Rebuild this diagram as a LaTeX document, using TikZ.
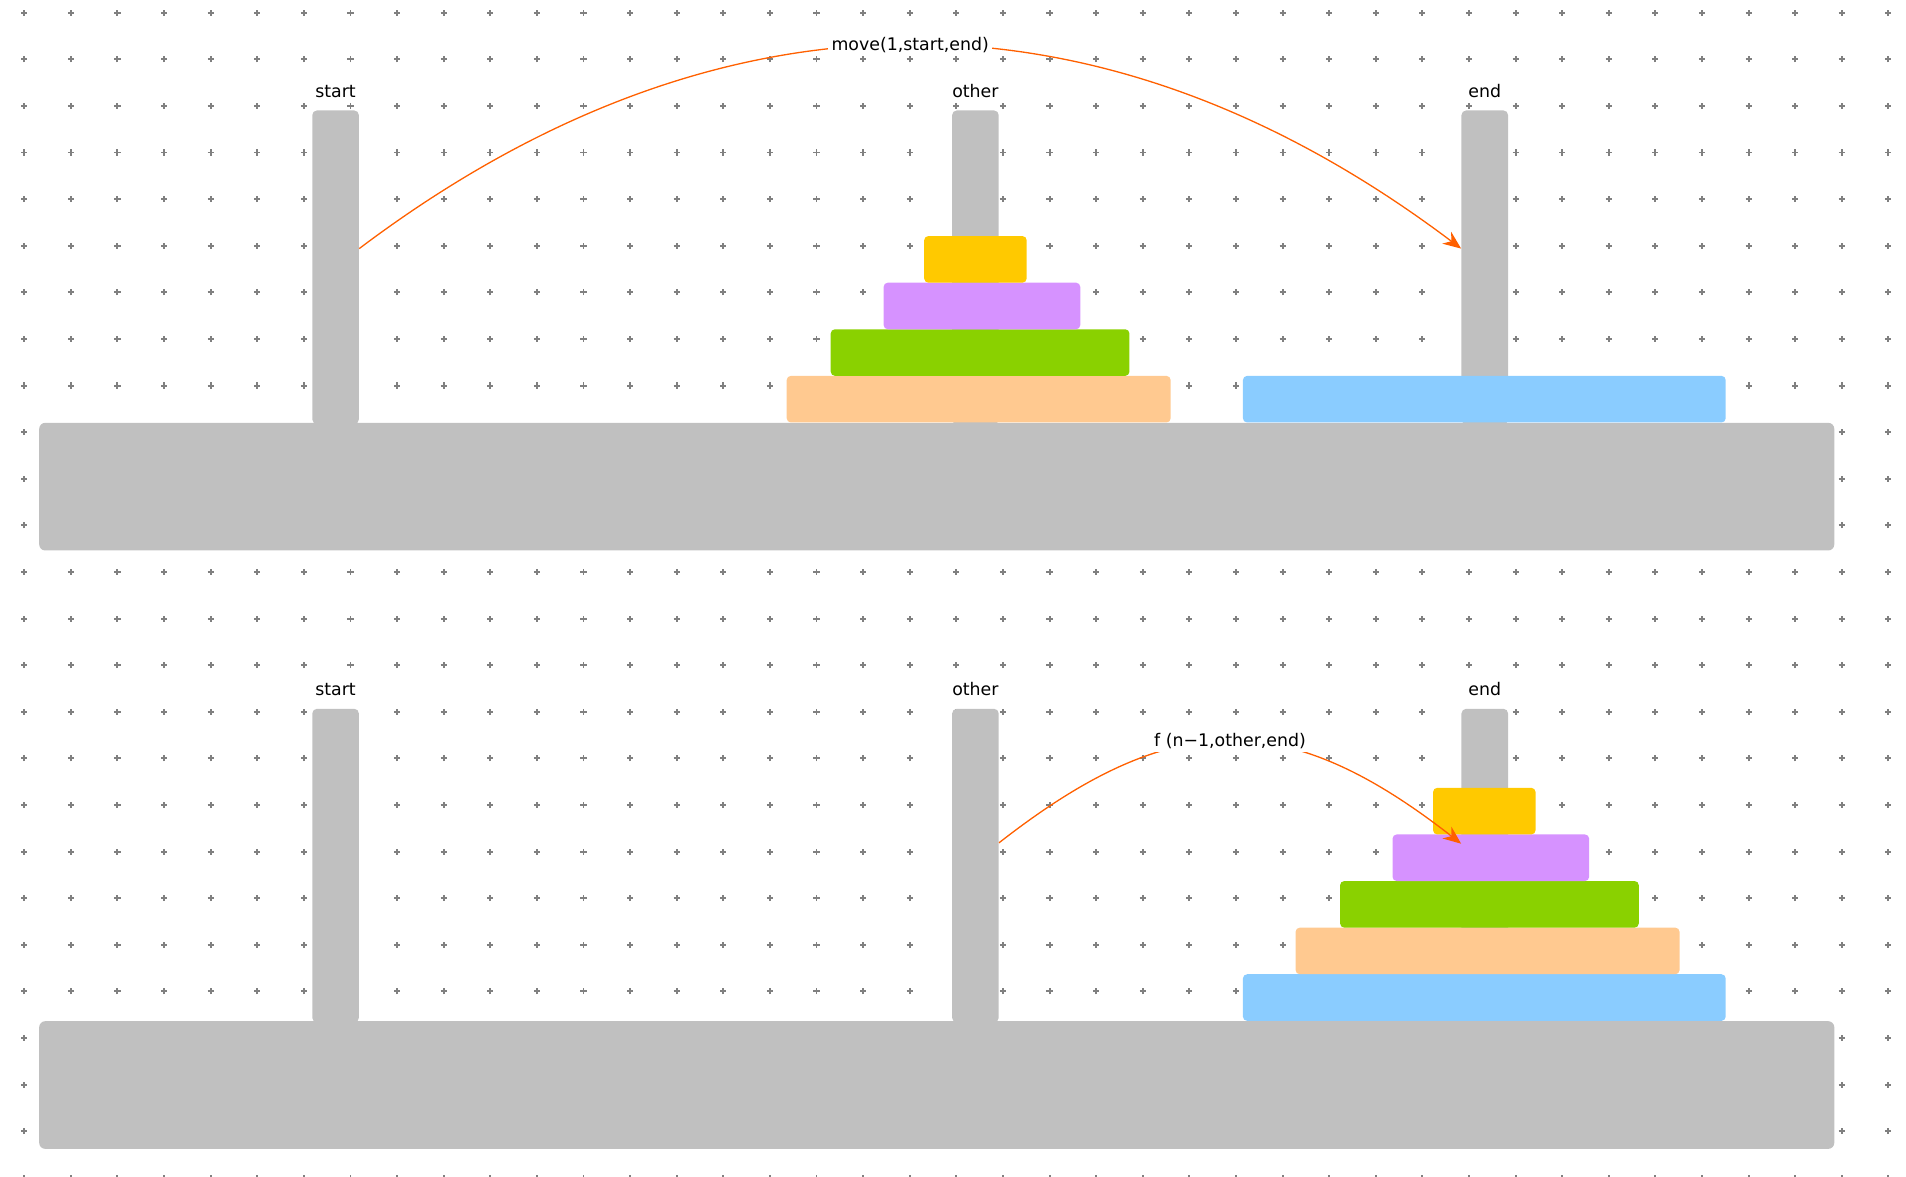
\documentclass[tikz,border=0pt]{standalone}
\usepackage{fontspec}
\setmainfont{DejaVu Sans}
\usetikzlibrary{positioning,arrows.meta}

\definecolor{peggray}{HTML}{C0C0C0}
\definecolor{dotgray}{HTML}{808080}
\definecolor{discyellow}{HTML}{FFC900}
\definecolor{discpurple}{HTML}{D692FF}
\definecolor{discgreen}{HTML}{8AD100}
\definecolor{discpeach}{HTML}{FFC990}
\definecolor{discblue}{HTML}{8ACCFF}
\definecolor{movecolor}{HTML}{FF6000}

\begin{document}
\begin{tikzpicture}[
    peg/.style={rectangle, rounded corners=0.1cm, fill=peggray, minimum width=1cm, minimum height=6.73cm, inner sep=0pt, anchor=north},
    board/.style={rectangle, rounded corners=0.13cm, fill=peggray, minimum width=38.52cm, minimum height=2.74cm, inner sep=0pt},
    disc/.style={rectangle, rounded corners=0.09cm, minimum height=1cm, inner sep=0pt, anchor=south},
    peglabel/.style={font=\fontsize{10.6}{12}\selectfont, anchor=base, inner sep=0pt},
    movelabel/.style={font=\fontsize{10.6}{12}\selectfont, fill=white, inner sep=2pt},
    move/.style={draw=movecolor, line width=0.8pt, -{Stealth[length=11pt,width=9pt,inset=3.5pt]}}
]
\useasboundingbox (-0.521,0.2725) rectangle (40.379,-24.964);

% Dot grid
\foreach \i in {0,...,40}
  \foreach \j in {0,...,25}
    \draw[dotgray, line width=1.2pt] (\i-0.065,-\j) -- (\i+0.065,-\j) (\i,-\j-0.065) -- (\i,-\j+0.065);

% Top: pegs and board
\node[peg] (startA) at (6.68,-2.09) {};
\node[peg] (otherA) at (20.41,-2.09) {};
\node[peg] (endA) at (31.34,-2.09) {};
\node[board] (boardA) at (19.58,-10.17) {};

\node[peglabel] at ([yshift=2.7mm]startA.north) {start};
\node[peglabel] at ([yshift=2.7mm]otherA.north) {other};
\node[peglabel] at ([yshift=2.7mm]endA.north) {end};

% Top: discs
\node[disc, fill=discpeach, minimum width=8.24cm] (peachA) at (20.48,-8.80) {};
\node[disc, fill=discgreen, minimum width=6.41cm] (greenA) at (20.51,-7.80) {};
\node[disc, fill=discpurple, minimum width=4.22cm] (purpleA) at (20.55,-6.80) {};
\node[disc, fill=discyellow, minimum width=2.2cm] (yellowA) at (20.41,-5.80) {};
\node[disc, fill=discblue, minimum width=10.36cm] (blueA) at (31.33,-8.80) {};

% Top: move arrow
\draw[move] ([yshift=4mm]startA.east) to[out=37, in=143, looseness=1.05]
    node[movelabel] {move(1,start,end)} ([yshift=4mm]endA.west);

% Bottom: pegs and board
\node[peg] (startB) at (6.68,-14.93) {};
\node[peg] (otherB) at (20.41,-14.93) {};
\node[peg] (endB) at (31.34,-14.93) {};
\node[board] (boardB) at (19.58,-23.01) {};

\node[peglabel] at ([yshift=2.7mm]startB.north) {start};
\node[peglabel] at ([yshift=2.7mm]otherB.north) {other};
\node[peglabel] at ([yshift=2.7mm]endB.north) {end};

% Bottom: discs
\node[disc, fill=discblue, minimum width=10.36cm] (blueB) at (31.33,-21.64) {};
\node[disc, fill=discpeach, minimum width=8.24cm] (peachB) at (31.40,-20.64) {};
\node[disc, fill=discgreen, minimum width=6.41cm] (greenB) at (31.44,-19.64) {};
\node[disc, fill=discpurple, minimum width=4.22cm] (purpleB) at (31.47,-18.64) {};
\node[disc, fill=discyellow, minimum width=2.2cm] (yellowB) at (31.33,-17.64) {};

% Bottom: recursive move arrow
\draw[move] ([yshift=4.9mm]otherB.east) to[out=38, in=142, looseness=1.22]
    node[movelabel] {f (n−1,other,end)} ([yshift=4.7mm]endB.west);

\end{tikzpicture}
\end{document}
